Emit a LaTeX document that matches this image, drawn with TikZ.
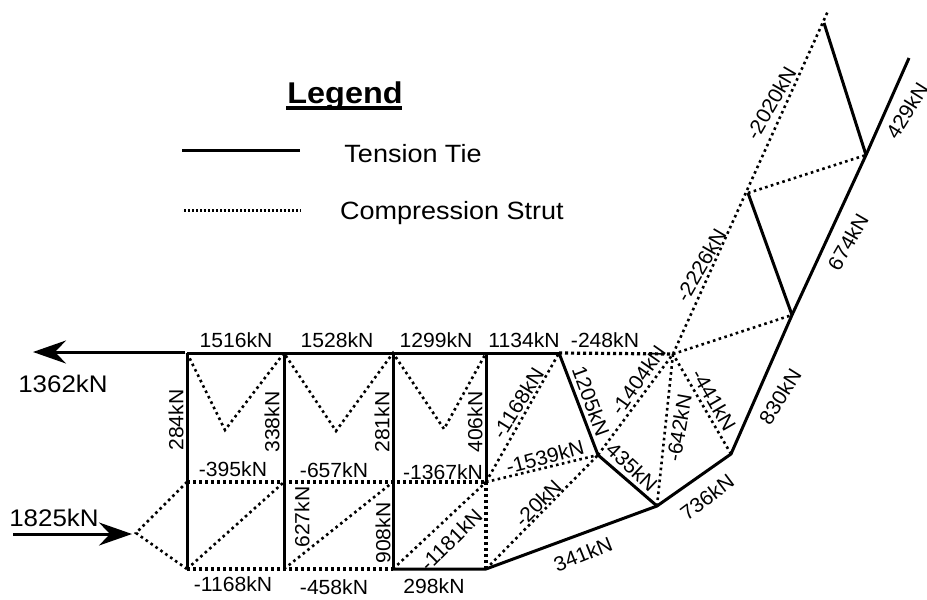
\documentclass[tikz,border=0pt]{standalone}
\usepackage{fontspec}
\setmainfont{Liberation Sans}
\usetikzlibrary{arrows.meta}
\tikzset{
  tie/.style={line width=3pt,black},
  strut/.style={line width=2.6pt,black,dash pattern=on 2.6pt off 3.4pt},
  strutb/.style={line width=3.2pt,black,dash pattern=on 3.2pt off 2.8pt},
  strutl/.style={line width=3pt,black,dash pattern=on 2.2pt off 1.8pt},
  lab/.style={font=\fontsize{20.5}{20.5}\selectfont,inner sep=0pt,xscale=1.03},
  biglab/.style={font=\fontsize{24}{24}\selectfont,inner sep=0pt,xscale=1.08},
  leglab/.style={font=\fontsize{25}{25}\selectfont,inner sep=0pt,xscale=1.08,anchor=base},
  force/.style={line width=3pt,-{Stealth[length=33pt,width=23pt,inset=11pt]}}
}
\begin{document}
\begin{tikzpicture}[x=1pt,y=-1pt]
\useasboundingbox (0,0) rectangle (927,600);
\foreach \n/\x/\y in {T1/187/353,T2/284/353,T3/393/353,T4/486/353,T5/559/353,H/673/354,
 M1/187/482,M2/284/482,M3/393/482,M4/486/482,
 B1/187/569,B2/284/569,B3/393/569,B4/486/569,
 V1/225/430,V2/336/431,V3/444/429,L/136/533,
 P/598/455,Q/657/506,R/731/454,S/792/315,U/866/155,W/909/58,
 X/748/193,Y/824/23,Z/828/11,
 Fa/185/352,Fb/33/352,Fc/13/534,Fd/132/534,
 La/182/150,Lb/300/150,Lc/184/210,Ld/301/210,Ua/286/108,Ub/402/108}
 {\coordinate (\n) at (\x,\y);}
% ties
\draw[tie] (T1)--(T2)--(T3)--(T4)--(T5);
\draw[tie] (T1)--(B1);
\draw[tie] (T2)--(B2);
\draw[tie] (T3)--(B3);
\draw[tie] (T4)--(M4);
\draw[tie,line join=round] (T5)--(P)--(Q);
\draw[tie,line join=round] (B3)--(B4)--(Q)--(R)--(S)--(U)--(W);
\draw[tie] (X)--(S);
\draw[tie] (Y)--(U);
% struts
\draw[strut] (T1)--(V1)--(T2)--(V2)--(T3)--(V3)--(T4);
\draw[strutb] (M1)--(M4);
\draw[strut] (M1)--(L)--(B1);
\draw[strut] (B1)--(M2);
\draw[strutb] (B1)--(B3);
\draw[strut] (B2)--(M3);
\draw[strut] (B3)--(M4);
\draw[strutb] (M4)--(B4);
\draw[strut] (M4)--(T5);
\draw[strut] (M4)--(P);
\draw[strut] (B4)--(P);
\draw[strutb] (T5)--(H);
\draw[strut] (P)--(H);
\draw[strut] (Q)--(H);
\draw[strut] (R)--(H);
\draw[strut] (H)--(S);
\draw[strut] (H)--(Z);
\draw[strut] (X)--(U);
% forces
\draw[force] (Fa)--(Fb);
\draw[force] (Fc)--(Fd);
% legend
\node[leglab,font=\fontsize{30}{30}\selectfont\bfseries] (legend) at (345,103) {Legend};
\draw[line width=3.6pt] (Ua)--(Ub);
\draw[tie] (La)--(Lb);
\draw[strutl] (Lc)--(Ld);
\node[leglab] (t1) at (413,162) {Tension Tie};
\node[leglab] (t2) at (452,219) {Compression Strut};
% labels
\foreach \t/\x/\y/\r in {1516kN/236/340/0,1528kN/337/340/0,1299kN/436/340/0,1134kN/524/340/0,-248kN/605/340/0,
 284kN/176/420/90,338kN/272/422/90,281kN/382/422/90,406kN/475/422/90,
 -395kN/233/469/0,-657kN/334/470/0,-1367kN/443/472/0,
 627kN/302/517/90,908kN/383/533/90,-1181kN/451/540/45,
 -1168kN/233/584/0,-458kN/334/587/0,298kN/434/586/0,
 341kN/583/554/22,-20kN/538/503/45,-1539kN/545/457/15,-1168kN/518/403/58,
 1205kN/591/401/-70,-1404kN/638/380/55,435kN/632/467/-43,-642kN/679/428/80,-441kN/714/400/-60,
 830kN/780/397/58,736kN/707/497/37,-2226kN/701/265/60,-2020kN/771/103/60,674kN/848/242/60,429kN/907/111/58}
 {\node[rotate=\r,lab] at (\x,\y) {\t};}
\node[biglab] (f1) at (63,384) {1362kN};
\node[biglab] (f2) at (54,518) {1825kN};
\end{tikzpicture}
\end{document}
